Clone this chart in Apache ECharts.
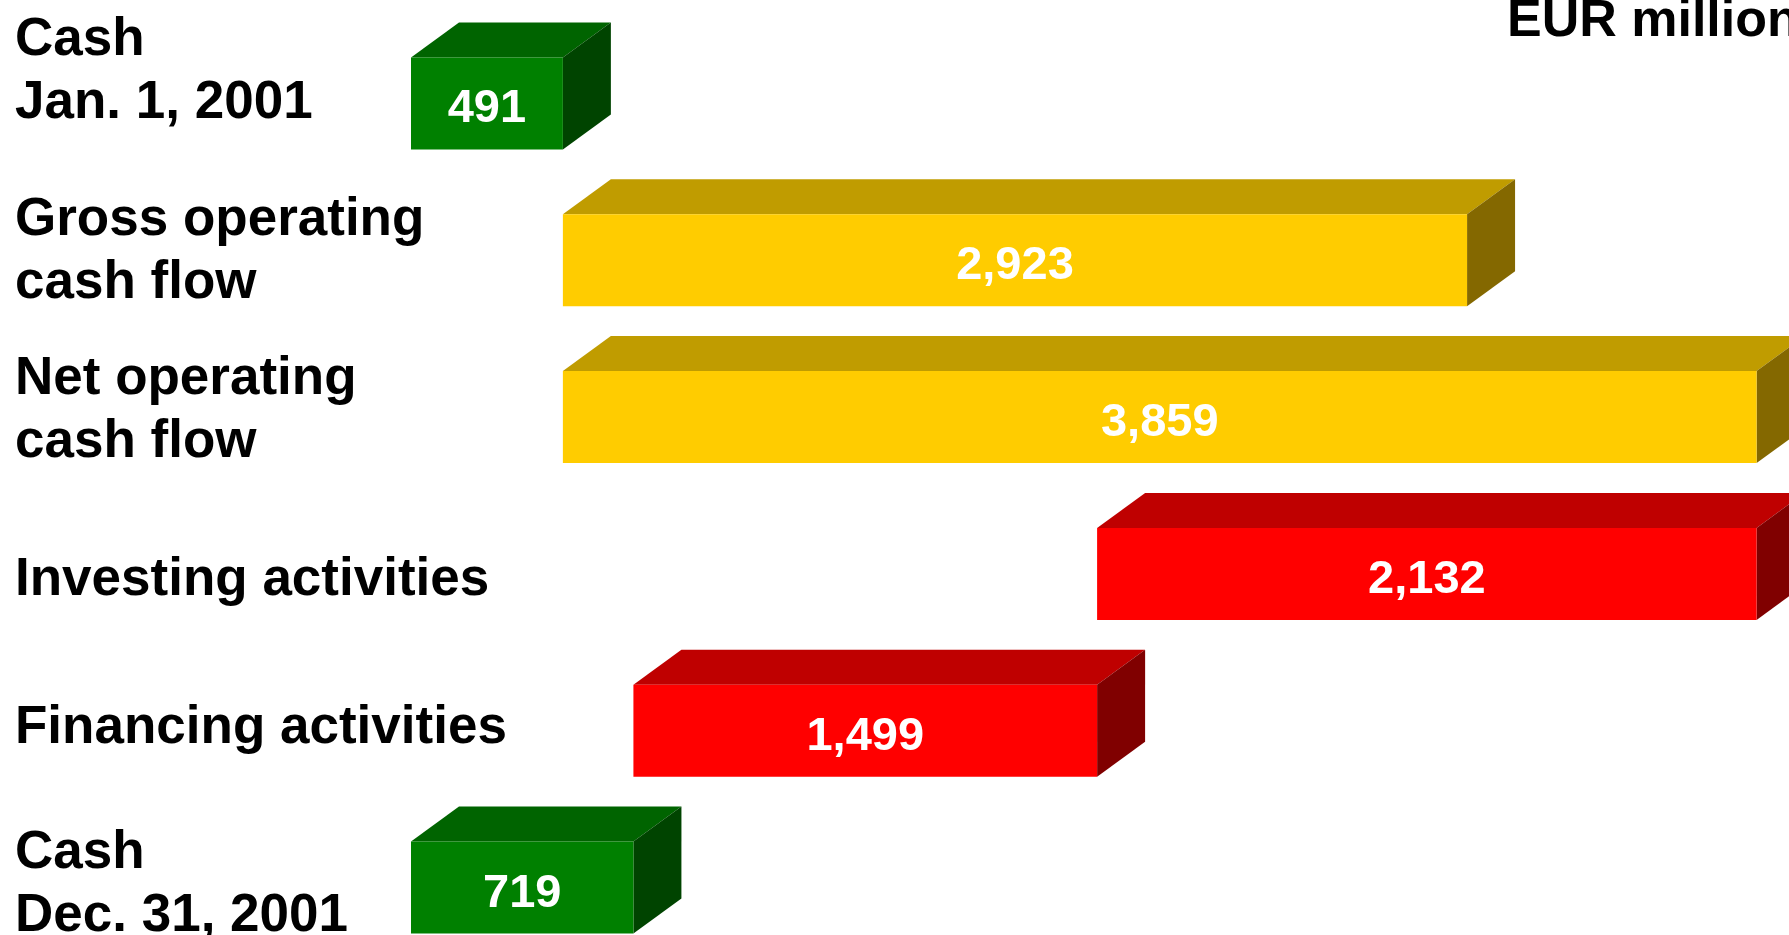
<!DOCTYPE html>
<html>
<head>
<meta charset="utf-8">
<script src="https://cdn.jsdelivr.net/npm/echarts@6/dist/echarts.min.js"></script>
<style>
html,body{margin:0;padding:0;background:#fff;}
#chart{width:1789px;height:935px;}
</style>
</head>
<body>
<div id="chart"></div>
<script>
// ---- data ----
const categories = ["Cash\nJan. 1, 2001", "Gross operating\ncash flow", "Net operating\ncash flow", "Investing activities", "Financing activities", "Cash\nDec. 31, 2001"];
const values = [491, 2923, 3859, 2132, 1499, 719];
const barStarts = [0, 491, 491, 2218, 719, 0];
const kinds = ["cash", "inflow", "inflow", "outflow", "outflow", "cash"];
const unitLabel = "EUR million";

// ---- styles ----
const palette = {
  cash:    { front: "#008000", top: "#006400", side: "#004400" },
  inflow:  { front: "#FFCC00", top: "#C09C00", side: "#846800" },
  outflow: { front: "#FF0000", top: "#BF0000", side: "#800000" }
};
const labelLift = [32, 8, 6, -6, 2, 3];
const FONT = "'Liberation Sans', Arial, Helvetica, sans-serif";

const seriesData = values.map((v, i) => [barStarts[i], barStarts[i] + v, i, v]);

const chart = echarts.init(document.getElementById('chart'));
chart.setOption({
  backgroundColor: '#ffffff',
  animation: false,
  grid: { left: 411, top: 25, width: 1392, height: 941, containLabel: false, outerBoundsMode: 'none' },
  xAxis: { type: 'value', min: 0, max: 4500, show: false },
  yAxis: {
    type: 'category',
    inverse: true,
    data: categories,
    axisLine: { show: false },
    axisTick: { show: false },
    splitLine: { show: false },
    axisLabel: { show: false }
  },
  series: [{
    type: 'custom',
    clip: false,
    data: seriesData,
    renderItem: function (params, api) {
      const s = api.value(0), e = api.value(1), ci = api.value(2), v = api.value(3);
      const p0 = api.coord([s, ci]);
      const p1 = api.coord([e, ci]);
      const band = api.size([0, 1])[1];
      const h = band * 0.587;
      const x0 = p0[0], x1 = p1[0], yc = p0[1];
      const top = yc - h / 2, bot = yc + h / 2;
      const dx = 48, dy = 35;
      const c = palette[kinds[params.dataIndex]];
      return {
        type: 'group',
        children: [
          { type: 'polygon', shape: { points: [[x0, top], [x0 + dx, top - dy], [x1 + dx, top - dy], [x1, top]] }, style: { fill: c.top } },
          { type: 'polygon', shape: { points: [[x1, top], [x1 + dx, top - dy], [x1 + dx, bot - dy], [x1, bot]] }, style: { fill: c.side } },
          { type: 'rect', shape: { x: x0, y: top, width: x1 - x0, height: h }, style: { fill: c.front } },
          { type: 'text', x: (x0 + x1) / 2, y: yc + 6, style: {
              text: v.toLocaleString('en-US'), fill: '#fff', font: "bold 47px " + FONT,
              align: 'center', verticalAlign: 'middle' } }
        ]
      };
    }
  }]
});

// category labels, placed at each category's position on the y axis
const catGraphics = categories.map((c, i) => {
  const yc = chart.convertToPixel({ yAxisIndex: 0 }, c);
  return {
    type: 'text',
    x: 15,
    y: yc - labelLift[i],
    style: {
      text: c, fill: '#000', font: "bold 53px " + FONT,
      lineHeight: 63, align: 'left', verticalAlign: 'middle'
    }
  };
});
catGraphics.push({
  type: 'text',
  x: 1507,
  y: -4.5,
  style: { text: unitLabel, fill: '#000', font: "bold 52px " + FONT, verticalAlign: 'top' }
});
chart.setOption({ graphic: catGraphics });
</script>
</body>
</html>
